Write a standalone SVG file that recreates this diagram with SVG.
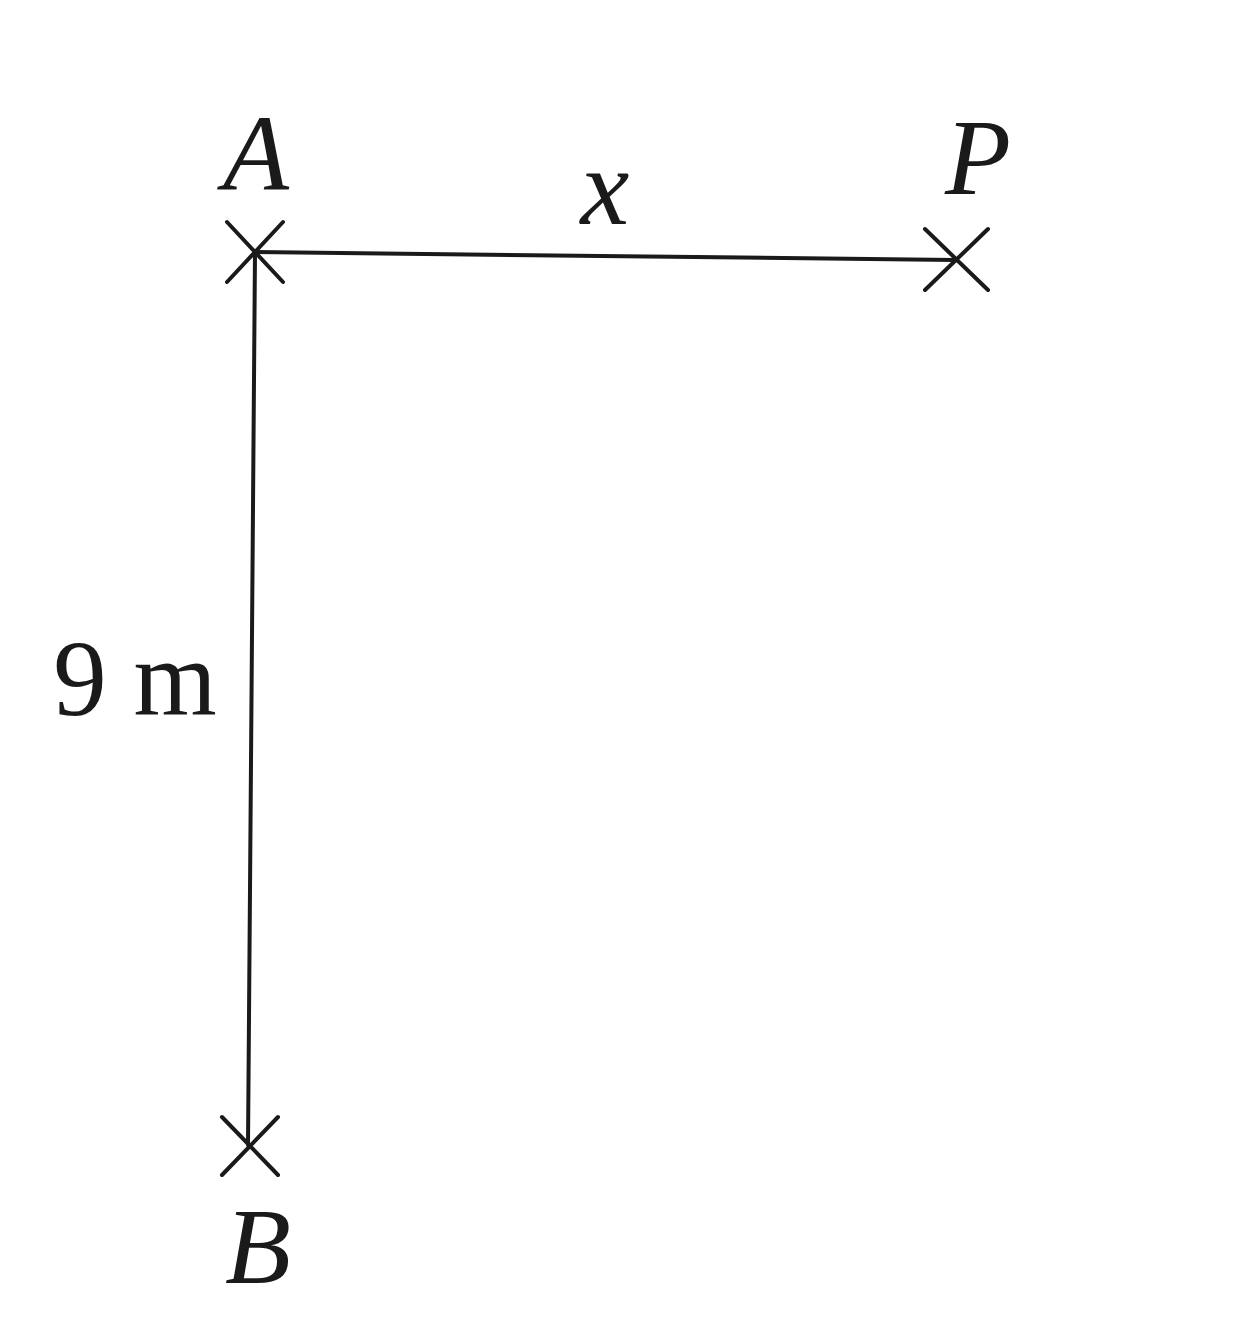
<svg xmlns="http://www.w3.org/2000/svg" width="1249" height="1325" viewBox="0 0 1249 1325">
<style>
.l{stroke:#1a1a1a;stroke-width:4;fill:none;stroke-linecap:round}
.t{font-family:"Liberation Serif","Times New Roman",serif;fill:#1a1a1a}
.i{font-style:italic}
</style>
<rect width="1249" height="1325" fill="#fff"/>
<g id="connectors">
<line class="l" x1="255" y1="252" x2="955" y2="260"/>
<line class="l" x1="255" y1="252" x2="248" y2="1145"/>
</g>
<g id="A">
<path class="l" d="M227 222L283 282M283 222L227 282"/>
<text class="t i" x="256" y="190" font-size="108" text-anchor="middle">A</text>
</g>
<g id="P">
<path class="l" d="M925 229L988 290M988 229L925 290"/>
<text class="t i" x="978" y="194" font-size="108" text-anchor="middle">P</text>
</g>
<g id="B">
<path class="l" d="M222 1117L278 1175M278 1117L222 1175"/>
<text class="t i" x="258" y="1283" font-size="108" text-anchor="middle">B</text>
</g>
<text class="t i" x="605" y="224" font-size="110" text-anchor="middle">x</text>
<text class="t" x="135" y="715" font-size="107" text-anchor="middle">9 m</text>
</svg>
